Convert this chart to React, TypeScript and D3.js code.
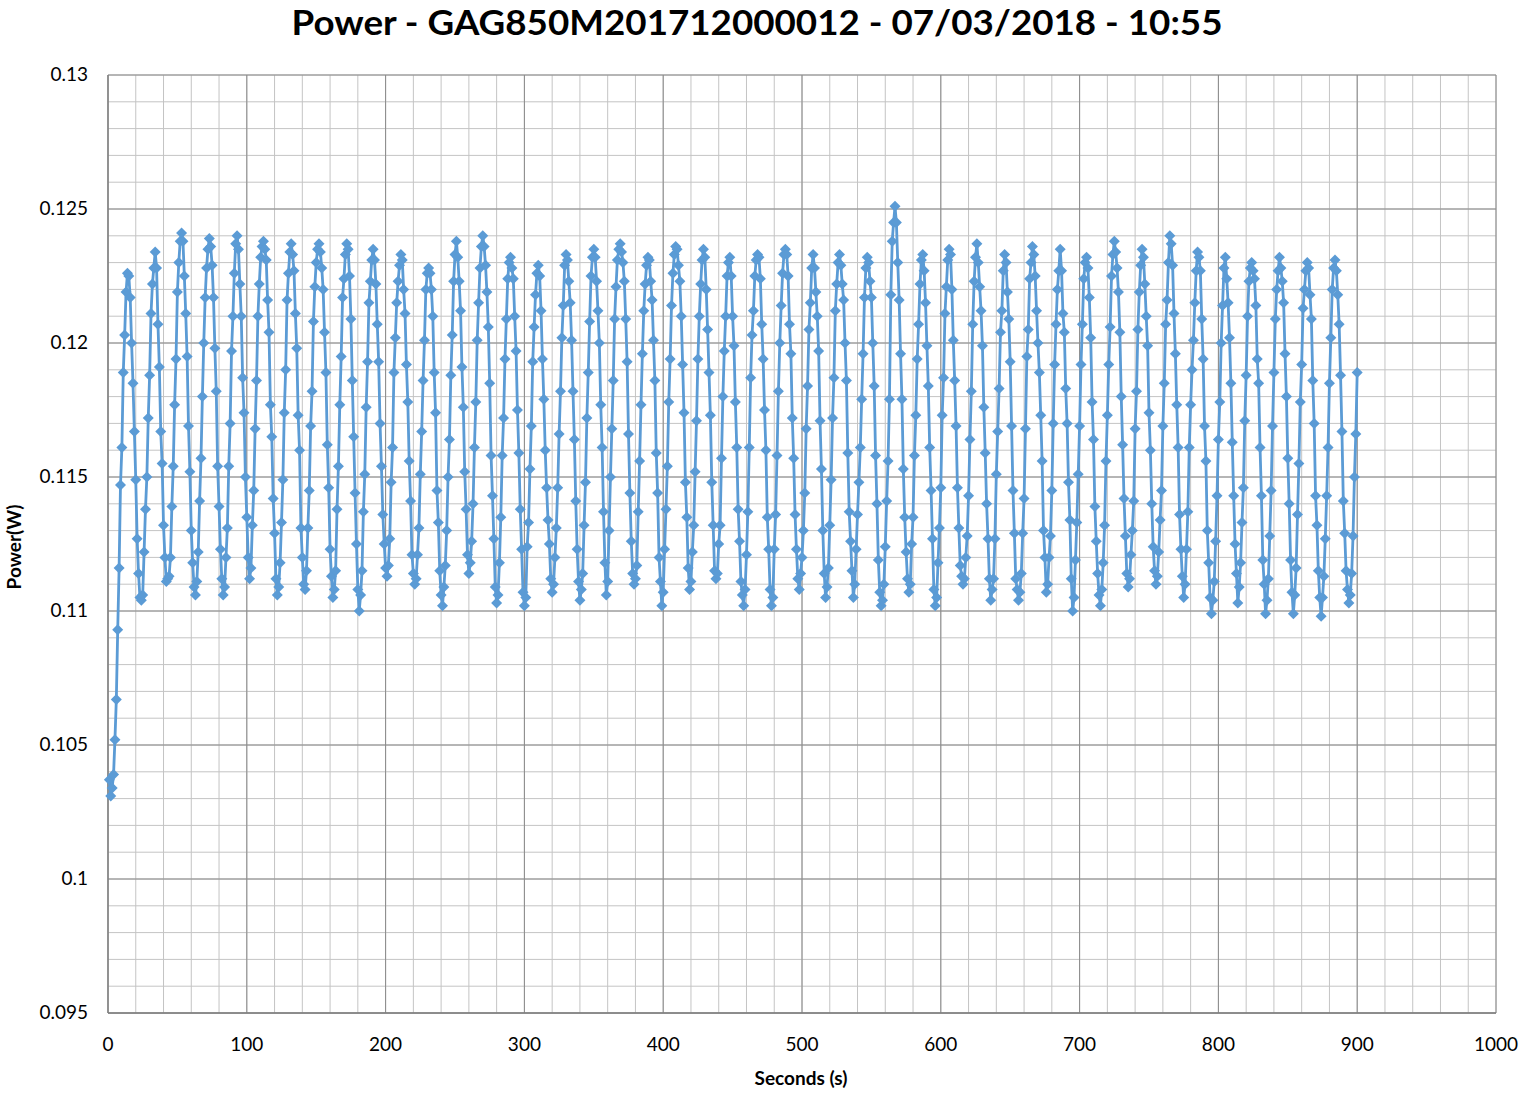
import React from 'react';
import * as d3 from 'd3';

// Power readings in units of 0.0001 W, one sample per second (t = 1..900)
const startValues = [1037, 1031, 1034, 1039, 1052, 1067, 1093, 1116, 1147, 1161, 1189, 1203, 1219];

const cycleValues: number[][] = [
  [1226, 1225, 1217, 1200, 1185, 1167, 1149, 1127, 1114, 1105, 1104, 1106, 1122, 1138, 1150, 1172, 1188, 1211, 1222, 1228],
  [1234, 1228, 1207, 1191, 1167, 1155, 1132, 1120, 1111, 1112, 1113, 1120, 1139, 1154, 1177, 1194, 1219, 1230, 1238],
  [1241, 1238, 1225, 1211, 1195, 1169, 1152, 1130, 1118, 1109, 1106, 1111, 1122, 1141, 1157, 1180, 1200, 1217, 1228, 1235],
  [1239, 1236, 1229, 1217, 1198, 1182, 1154, 1139, 1123, 1112, 1106, 1109, 1120, 1131, 1154, 1170, 1197, 1210, 1226, 1237],
  [1240, 1235, 1222, 1210, 1187, 1174, 1150, 1135, 1120, 1112, 1116, 1132, 1145, 1168, 1186, 1210, 1222, 1232, 1236],
  [1238, 1235, 1231, 1216, 1204, 1177, 1165, 1142, 1129, 1112, 1106, 1109, 1118, 1133, 1149, 1174, 1190, 1216, 1226, 1234],
  [1237, 1233, 1227, 1211, 1198, 1173, 1160, 1131, 1120, 1110, 1108, 1115, 1131, 1145, 1169, 1182, 1208, 1221, 1230, 1235],
  [1237, 1234, 1228, 1220, 1204, 1189, 1162, 1146, 1123, 1113, 1105, 1108, 1115, 1138, 1154, 1177, 1195, 1217, 1224, 1233],
  [1237, 1235, 1225, 1209, 1186, 1165, 1144, 1125, 1108, 1100, 1106, 1115, 1137, 1151, 1176, 1193, 1215, 1223, 1231],
  [1235, 1231, 1222, 1207, 1193, 1170, 1154, 1136, 1125, 1116, 1113, 1117, 1127, 1148, 1161, 1189, 1202, 1215, 1223, 1229],
  [1233, 1231, 1220, 1211, 1192, 1178, 1156, 1141, 1121, 1114, 1110, 1112, 1121, 1131, 1151, 1167, 1186, 1201, 1220, 1226],
  [1228, 1226, 1220, 1210, 1189, 1174, 1145, 1133, 1115, 1106, 1102, 1109, 1117, 1130, 1150, 1164, 1188, 1203, 1223, 1233],
  [1238, 1232, 1223, 1212, 1191, 1176, 1152, 1138, 1121, 1114, 1118, 1126, 1140, 1161, 1178, 1201, 1215, 1228, 1236],
  [1240, 1236, 1229, 1219, 1206, 1185, 1158, 1143, 1127, 1109, 1103, 1106, 1118, 1135, 1158, 1172, 1194, 1209, 1224, 1230],
  [1232, 1228, 1224, 1210, 1197, 1175, 1159, 1138, 1123, 1107, 1102, 1105, 1124, 1133, 1153, 1169, 1193, 1206, 1218, 1226],
  [1229, 1225, 1212, 1194, 1179, 1160, 1146, 1134, 1125, 1112, 1107, 1110, 1120, 1131, 1146, 1166, 1182, 1202, 1214, 1229],
  [1233, 1231, 1223, 1215, 1201, 1182, 1164, 1141, 1123, 1111, 1104, 1108, 1114, 1132, 1148, 1172, 1189, 1208, 1225, 1232],
  [1235, 1232, 1223, 1212, 1200, 1177, 1161, 1137, 1118, 1106, 1111, 1130, 1150, 1168, 1186, 1209, 1221, 1231, 1235],
  [1237, 1234, 1230, 1223, 1209, 1193, 1166, 1144, 1126, 1114, 1110, 1112, 1117, 1137, 1156, 1177, 1196, 1212, 1222, 1229],
  [1232, 1231, 1223, 1216, 1201, 1186, 1159, 1144, 1120, 1111, 1102, 1107, 1123, 1138, 1154, 1178, 1194, 1214, 1226, 1233],
  [1236, 1235, 1229, 1223, 1210, 1192, 1174, 1148, 1135, 1116, 1108, 1111, 1122, 1132, 1152, 1171, 1194, 1210, 1222, 1231],
  [1235, 1232, 1220, 1205, 1189, 1173, 1148, 1132, 1115, 1112, 1114, 1125, 1132, 1157, 1180, 1197, 1210, 1225, 1230],
  [1232, 1225, 1210, 1199, 1178, 1161, 1138, 1126, 1111, 1106, 1102, 1108, 1121, 1137, 1161, 1187, 1203, 1212, 1225, 1231],
  [1233, 1232, 1224, 1207, 1194, 1175, 1160, 1135, 1123, 1108, 1102, 1105, 1123, 1136, 1158, 1182, 1200, 1214, 1226, 1233],
  [1235, 1233, 1225, 1207, 1196, 1172, 1157, 1136, 1123, 1112, 1108, 1114, 1120, 1130, 1144, 1168, 1184, 1205, 1215, 1228],
  [1233, 1228, 1219, 1210, 1197, 1171, 1153, 1130, 1114, 1105, 1109, 1116, 1132, 1149, 1172, 1187, 1212, 1222, 1230],
  [1233, 1229, 1222, 1216, 1200, 1186, 1159, 1137, 1126, 1115, 1105, 1110, 1123, 1136, 1148, 1161, 1179, 1196, 1217, 1228],
  [1232, 1230, 1223, 1217, 1200, 1184, 1158, 1140, 1119, 1107, 1102, 1104, 1110, 1124, 1141, 1156, 1179, 1218, 1238, 1245],
  [1251, 1245, 1230, 1216, 1196, 1179, 1153, 1135, 1122, 1112, 1107, 1110, 1125, 1135, 1158, 1173, 1194, 1207, 1222, 1231],
  [1233, 1227, 1215, 1199, 1184, 1161, 1145, 1127, 1108, 1102, 1105, 1118, 1131, 1146, 1173, 1187, 1211, 1221, 1231],
  [1235, 1233, 1220, 1201, 1186, 1169, 1146, 1131, 1117, 1113, 1110, 1112, 1120, 1128, 1143, 1164, 1182, 1207, 1223, 1232],
  [1237, 1230, 1221, 1212, 1199, 1176, 1159, 1140, 1127, 1112, 1104, 1108, 1112, 1127, 1151, 1167, 1183, 1204, 1212, 1227],
  [1233, 1230, 1219, 1209, 1193, 1169, 1145, 1129, 1112, 1108, 1104, 1107, 1114, 1129, 1142, 1168, 1195, 1205, 1224, 1230],
  [1236, 1233, 1225, 1212, 1200, 1189, 1173, 1156, 1130, 1120, 1107, 1110, 1120, 1128, 1145, 1170, 1192, 1207, 1220, 1227],
  [1235, 1227, 1211, 1204, 1183, 1170, 1148, 1134, 1112, 1100, 1105, 1119, 1133, 1151, 1169, 1192, 1207, 1224, 1230],
  [1232, 1228, 1217, 1202, 1178, 1164, 1139, 1126, 1114, 1106, 1102, 1108, 1118, 1132, 1156, 1173, 1192, 1206, 1225, 1233],
  [1238, 1234, 1228, 1219, 1204, 1180, 1162, 1142, 1128, 1114, 1109, 1112, 1121, 1130, 1141, 1168, 1182, 1205, 1219, 1229],
  [1235, 1232, 1222, 1210, 1199, 1174, 1160, 1140, 1124, 1115, 1110, 1113, 1122, 1134, 1145, 1169, 1185, 1207, 1216, 1230],
  [1240, 1237, 1229, 1211, 1196, 1177, 1161, 1136, 1123, 1113, 1105, 1110, 1123, 1137, 1161, 1177, 1190, 1201, 1215, 1227],
  [1234, 1232, 1227, 1209, 1194, 1169, 1156, 1130, 1118, 1105, 1099, 1104, 1111, 1126, 1143, 1164, 1178, 1200, 1214, 1228],
  [1232, 1224, 1215, 1202, 1185, 1163, 1143, 1125, 1114, 1103, 1109, 1118, 1133, 1146, 1171, 1188, 1210, 1223, 1228],
  [1230, 1227, 1224, 1214, 1194, 1185, 1161, 1143, 1119, 1110, 1099, 1104, 1112, 1128, 1145, 1169, 1189, 1209, 1220, 1227],
  [1232, 1228, 1223, 1215, 1196, 1180, 1157, 1140, 1119, 1107, 1099, 1106, 1116, 1136, 1155, 1178, 1192, 1213, 1220, 1227],
  [1230, 1228, 1218, 1209, 1186, 1170, 1143, 1132, 1115, 1105, 1098, 1105, 1113, 1127, 1143, 1161, 1185, 1202, 1220, 1228],
];

const tailValues = [1231, 1227, 1218, 1207, 1188, 1167, 1141, 1129, 1115, 1108, 1103, 1106, 1114, 1128, 1150, 1166, 1189];

const xTicks = [0, 100, 200, 300, 400, 500, 600, 700, 800, 900, 1000];
const yTicks = [0.095, 0.1, 0.105, 0.11, 0.115, 0.12, 0.125, 0.13];
const yTickLabels = ['0.095', '0.1', '0.105', '0.11', '0.115', '0.12', '0.125', '0.13'];

const TITLE = 'Power - GAG850M201712000012 - 07/03/2018 - 10:55';
const X_TITLE = 'Seconds (s)';
const Y_TITLE = 'Power(W)';

const FONT = 'Lato, "Open Sans", "DejaVu Sans", sans-serif';
const BLUE = '#5B9BD5';

export default function App() {
  const W = 1522;
  const H = 1093;
  const left = 108, right = 1496, top = 75, bottom = 1013;
  const x = d3.scaleLinear().domain([0, 1000]).range([left, right]);
  const y = d3.scaleLinear().domain([0.095, 0.13]).range([bottom, top]);

  const raw = [...startValues, ...cycleValues.flat(), ...tailValues];
  const data = raw.map((v, i) => ({ t: i + 1, p: v / 10000 }));
  const line = d3.line<{ t: number; p: number }>().x(d => x(d.t)).y(d => y(d.p));

  const minorX = d3.range(0, 1001, 20);
  const minorY = d3.range(95, 131, 1).map(v => v / 1000);
  const diamond = 'M0,-5.5L5.5,0L0,5.5L-5.5,0Z';

  return (
    <svg width={W} height={H} style={{ position: 'absolute', left: 0, top: 0, background: '#fff' }}>
      <rect x={0} y={0} width={W} height={H} fill="#fff" />
      <g>
        {minorX.map(v => (
          <line key={'mx' + v} x1={x(v)} x2={x(v)} y1={top} y2={bottom} stroke="#c4c4c4" strokeWidth={1} />
        ))}
        {minorY.map(v => (
          <line key={'my' + v} x1={left} x2={right} y1={y(v)} y2={y(v)} stroke="#c4c4c4" strokeWidth={1} />
        ))}
        {xTicks.map(v => (
          <line key={'Mx' + v} x1={x(v)} x2={x(v)} y1={top} y2={bottom} stroke="#8a8a8a" strokeWidth={1} />
        ))}
        {yTicks.map(v => (
          <line key={'My' + v} x1={left} x2={right} y1={y(v)} y2={y(v)} stroke="#8a8a8a" strokeWidth={1} />
        ))}
        <line x1={left} x2={left} y1={top} y2={bottom} stroke="#7f7f7f" strokeWidth={1.3} />
        <line x1={left} x2={right} y1={bottom} y2={bottom} stroke="#7f7f7f" strokeWidth={1.3} />
      </g>

      <path d={line(data) || ''} fill="none" stroke={BLUE} strokeWidth={2.8} strokeLinejoin="round" />
      <g fill={BLUE}>
        {data.map(d => (
          <path key={d.t} d={diamond} transform={`translate(${x(d.t)},${y(d.p)})`} />
        ))}
      </g>

      <g fontFamily={FONT} fontSize={19} fill="#000">
        {xTicks.map(v => (
          <text key={'xl' + v} x={x(v)} y={1051} textAnchor="middle">{v}</text>
        ))}
        {yTicks.map((v, i) => (
          <text key={'yl' + v} x={88} y={y(v) + 6} textAnchor="end">{yTickLabels[i]}</text>
        ))}
      </g>

      <text x={757} y={35} textAnchor="middle" fontFamily={FONT} fontWeight="bold" fontSize={35}
        textLength={931} lengthAdjust="spacingAndGlyphs">{TITLE}</text>
      <text x={801} y={1085} textAnchor="middle" fontFamily={FONT} fontWeight="bold" fontSize={19}>{X_TITLE}</text>
      <text transform="translate(21,547) rotate(-90)" textAnchor="middle" fontFamily={FONT} fontWeight="bold" fontSize={19}>{Y_TITLE}</text>
    </svg>
  );
}
